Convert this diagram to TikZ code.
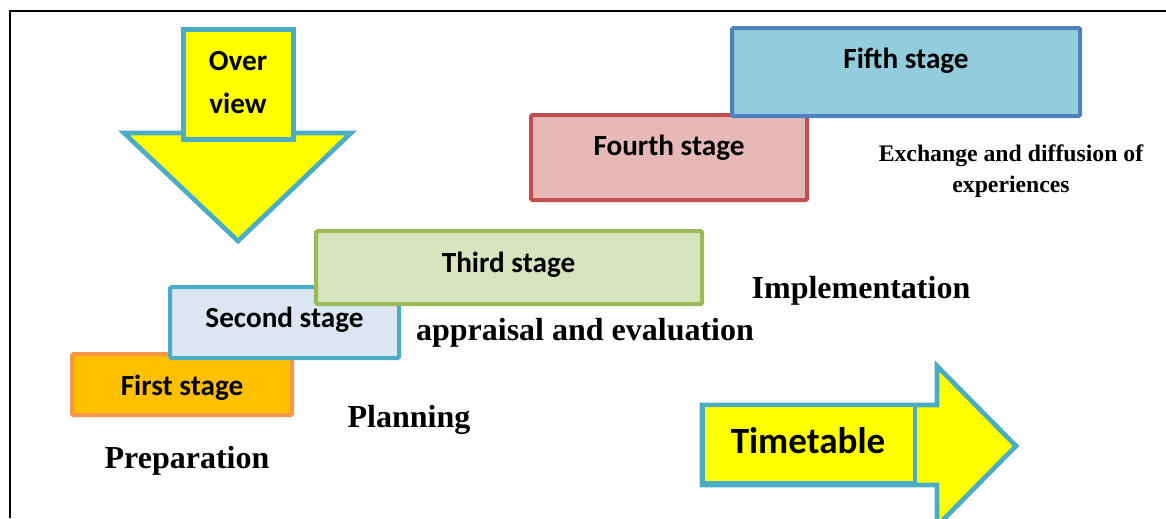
\documentclass[tikz,border=0pt]{standalone}
\usepackage{fontspec}
\setmainfont{Liberation Serif}
\newfontfamily\carlito{Carlito}
\definecolor{ayellow}{HTML}{FFFF00}
\definecolor{aborder}{HTML}{4BACC6}
\definecolor{firstfill}{HTML}{FFC000}
\definecolor{firstline}{HTML}{F79646}
\definecolor{secondfill}{HTML}{DCE6F2}
\definecolor{secondline}{HTML}{4BACC6}
\definecolor{thirdfill}{HTML}{D7E4BD}
\definecolor{thirdline}{HTML}{9BBB59}
\definecolor{fourthfill}{HTML}{E6B9B8}
\definecolor{fourthline}{HTML}{C0504D}
\definecolor{fifthfill}{HTML}{93CDDD}
\definecolor{fifthline}{HTML}{4F81BD}
\begin{document}
\begin{tikzpicture}[x=0.75pt,y=-0.75pt,
  stagebox/.style={draw, line width=3pt, rounded corners=1pt, inner sep=0pt},
  stagetext/.style={font=\carlito\bfseries\fontsize{21.9}{24}\selectfont, anchor=base, inner sep=0pt},
  phase/.style={font=\bfseries\fontsize{24}{28}\selectfont, anchor=base, inner sep=0pt},
  phasesmall/.style={font=\bfseries\fontsize{17.8}{20}\selectfont, anchor=base, inner sep=0pt},
  arrowshape/.style={draw=aborder, fill=ayellow, line width=3.5pt, line join=miter},
  arrowbox/.style={draw=aborder, fill=ayellow, line width=3.5pt, inner sep=0pt}
]
\useasboundingbox (0,0) rectangle (1166,518);
% frame
\draw[line width=2.2pt] (10,518) -- (10,11) -- (1166,11);

% down arrow (overview)
\draw[arrowshape] (124,133) -- (351,133) -- (238,241) -- cycle;
\node[arrowbox, minimum width=82.5pt, minimum height=82.5pt] (ovbox) at (238.5,84.5) {};
\node[stagetext] (ov1) at (238,70) {Over};
\node[stagetext] (ov2) at (238,113) {view};

% timetable arrow
\draw[arrowshape] (702,405) -- (937,405) -- (937,366) -- (1016,446) -- (937,526) -- (937,485) -- (702,485) -- cycle;
\node[arrowbox, minimum width=159pt, minimum height=58.5pt] (ttbox) at (809,444) {};
\node[stagetext, font=\carlito\bfseries\fontsize{27.8}{30}\selectfont] (tt) at (808,453) {Timetable};

% stages
\node[stagebox, draw=firstline, fill=firstfill, minimum width=165pt, minimum height=45.75pt] (s1) at (182,384.5) {};
\node[stagetext] (t1) at (182,395) {First stage};
\node[stagebox, draw=secondline, fill=secondfill, minimum width=171.75pt, minimum height=53.25pt] (s2) at (284.5,322.5) {};
\node[stagetext] (t2) at (284.5,327) {Second stage};
\node[stagebox, draw=thirdline, fill=thirdfill, minimum width=289.5pt, minimum height=54.75pt] (s3) at (509,267.5) {};
\node[stagetext] (t3) at (508.5,272) {Third stage};
\node[stagebox, draw=fourthline, fill=fourthfill, minimum width=207pt, minimum height=63.75pt] (s4) at (669,157.5) {};
\node[stagetext] (t4) at (669,155) {Fourth stage};
\node[stagebox, draw=fifthline, fill=fifthfill, minimum width=261pt, minimum height=66pt] (s5) at (906,72) {};
\node[stagetext] (t5) at (906,68) {Fifth stage};

% phase labels
\node[phase] (prep) at (187,468) {Preparation};
\node[phase] (plan) at (409,427) {Planning};
\node[phase] (appr) at (585,340) {appraisal and evaluation};
\node[phase] (impl) at (861,298) {Implementation};
\node[phasesmall] (exch1) at (1011,161) {Exchange and diffusion of};
\node[phasesmall] (exch2) at (1011,192) {experiences};
\end{tikzpicture}
\end{document}
